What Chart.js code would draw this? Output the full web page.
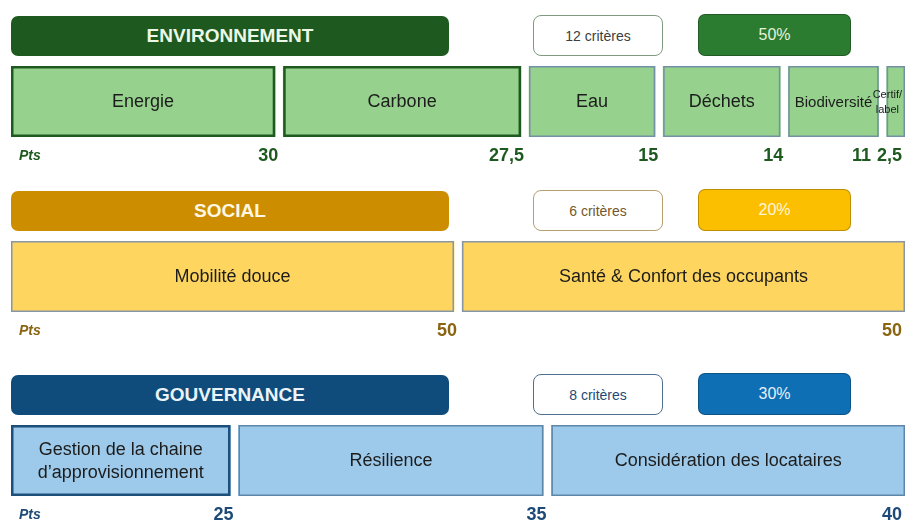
<!DOCTYPE html>
<html lang="fr">
<head>
<meta charset="utf-8">
<title>Critères ESG</title>
<script src="https://cdn.jsdelivr.net/npm/chart.js@4"></script>
<style>
  html, body { margin: 0; padding: 0; background: #fff; }
  body {
    width: 906px; height: 525px; position: relative; overflow: hidden;
    font-family: "Liberation Sans", Arial, sans-serif;
  }
  .pill {
    position: absolute; box-sizing: border-box; display: flex;
    align-items: center; justify-content: center; border-radius: 7px;
  }
  .pillar { left: 11px; width: 438px; height: 40px; font-weight: bold; font-size: 19px; }
  .count { left: 533px; width: 130px; height: 41px; background: #fff; border: 1.5px solid; font-size: 14px; border-radius: 8px; }
  .weight { left: 698px; width: 153px; height: 42px; font-size: 16px; border: 1px solid rgba(0, 0, 0, 0.25); }
  canvas { position: absolute; left: 0; }
</style>
</head>
<body>
<script>
  var pillars = ["ENVIRONNEMENT", "SOCIAL", "GOUVERNANCE"];
  var criteriaCounts = [12, 6, 8];
  var weights = [50, 20, 30];

  var envSegments = ["Energie", "Carbone", "Eau", "Déchets", "Biodiversité", "Certif/\nlabel"];
  var envPoints = [30, 27.5, 15, 14, 11, 2.5];

  var socialSegments = ["Mobilité douce", "Santé & Confort des occupants"];
  var socialPoints = [50, 50];

  var govSegments = ["Gestion de la chaine\nd’approvisionnement", "Résilience", "Considération des locataires"];
  var govPoints = [25, 35, 40];

  var segments = [envSegments, socialSegments, govSegments];
  var points = [envPoints, socialPoints, govPoints];

  var themes = [
    { dark: "#1e5a1f", headText: "#ecf7e7", weightBg: "#2b7b30", weightText: "#e4f3dd",
      countBorder: "#7f9a80", countText: "#3d3d3d", fill: "#96d28d",
      strong: "#1e5a1f", strongCount: 2, thin: "#7390a6", pts: "#1e5a1f" },
    { dark: "#cc8e00", headText: "#fff7e4", weightBg: "#fcbf00", weightText: "#fff6da",
      countBorder: "#b5a070", countText: "#75582a", fill: "#fed65f",
      strong: "#8896a4", strongCount: 0, thin: "#8896a4", pts: "#8a6410" },
    { dark: "#0f4c7b", headText: "#ebf3fa", weightBg: "#0e6fb5", weightText: "#e6f1fa",
      countBorder: "#4f6f90", countText: "#1e4b75", fill: "#9dcaea",
      strong: "#1d4f7b", strongCount: 1, thin: "#5d86a8", pts: "#1d4a76" },
  ];

  var offsets = [0, 175, 359];
  var GAP = 4;
  var FONT = "'Liberation Sans', Arial, sans-serif";

  function fmt(v) {
    return String(v).replace(".", ",");
  }

  function addPill(cls, top, text, style) {
    var el = document.createElement("div");
    el.className = "pill " + cls;
    el.style.top = top + "px";
    el.textContent = text;
    for (var k in style) el.style[k] = style[k];
    document.body.appendChild(el);
  }

  var segmentDecor = {
    id: "segmentDecor",
    afterDatasetsDraw: function (chart) {
      var ctx = chart.ctx;
      var area = chart.chartArea;
      var th = chart.options.plugins.segmentDecor.theme;
      var n = chart.data.datasets.length;
      var bars = chart.data.datasets.map(function (ds, i) {
        return chart.getDatasetMeta(i).data[0];
      });

      ctx.save();
      bars.forEach(function (bar, i) {
        var left = Math.min(bar.base, bar.x) + (i === 0 ? 0 : GAP);
        var right = Math.max(bar.base, bar.x) - (i === n - 1 ? 0 : GAP);
        var top = bar.y - bar.height / 2;
        var strong = i < th.strongCount;
        var lw = strong ? 2.5 : 1.5;
        ctx.strokeStyle = strong ? th.strong : th.thin;
        ctx.lineWidth = lw;
        ctx.strokeRect(left + lw / 2, top + lw / 2, right - left - lw, bar.height - lw);

        // label inside the segment
        var lines = chart.data.datasets[i].label.split("\n");
        var size = 18;
        ctx.font = size + "px " + FONT;
        var widest = function () {
          return Math.max.apply(null, lines.map(function (l) { return ctx.measureText(l).width; }));
        };
        while (widest() > right - left - 10 && size > 11) {
          size -= 1;
          ctx.font = size + "px " + FONT;
        }
        var w = widest();
        var cx = (left + right) / 2;
        if (cx + w / 2 > area.right - 3) cx = area.right - 3 - w / 2;
        var lh = size * 1.28;
        var y0 = bar.y - (lh * (lines.length - 1)) / 2;
        ctx.fillStyle = "#1c1c1c";
        ctx.textAlign = "center";
        ctx.textBaseline = "middle";
        lines.forEach(function (l, j) {
          ctx.fillText(l, cx, y0 + j * lh + 1);
        });
      });

      // points under each segment
      var py = area.bottom + 19;
      ctx.fillStyle = th.pts;
      ctx.textBaseline = "middle";
      ctx.font = "italic bold 14px " + FONT;
      ctx.textAlign = "left";
      ctx.fillText("Pts", area.left + 8, py);

      ctx.font = "bold 18px " + FONT;
      var labels = bars.map(function (bar, i) {
        var t = fmt(chart.data.datasets[i].data[0]);
        var r = Math.max(bar.base, bar.x) - (i === n - 1 ? 3 : 1);
        return { t: t, r: r, w: ctx.measureText(t).width };
      });
      for (var i = labels.length - 2; i >= 0; i--) {
        var limit = labels[i + 1].r - labels[i + 1].w - 6;
        if (labels[i].r > limit) labels[i].r = limit;
      }
      ctx.textAlign = "right";
      labels.forEach(function (l) {
        ctx.fillText(l.t, l.r, py);
      });
      ctx.restore();
    },
  };

  pillars.forEach(function (name, g) {
    var th = themes[g];
    var top = offsets[g];

    addPill("pillar", top + 16, name, { background: th.dark, color: th.headText });
    addPill("count", top + 15, criteriaCounts[g] + " critères", { borderColor: th.countBorder, color: th.countText });
    addPill("weight", top + 14, weights[g] + "%", { background: th.weightBg, color: th.weightText });

    var canvas = document.createElement("canvas");
    canvas.width = 906;
    canvas.height = 104;
    canvas.style.top = top + 66 + "px";
    canvas.style.width = "906px";
    canvas.style.height = "104px";
    document.body.appendChild(canvas);

    var n = segments[g].length;
    new Chart(canvas, {
      type: "bar",
      data: {
        labels: [name],
        datasets: segments[g].map(function (s, i) {
          return {
            label: s,
            data: [points[g][i]],
            backgroundColor: th.fill,
            borderColor: "#ffffff",
            borderWidth: { left: i === 0 ? 0 : GAP, right: i === n - 1 ? 0 : GAP, top: 0, bottom: 0 },
            borderSkipped: false,
            barPercentage: 1,
            categoryPercentage: 1,
          };
        }),
      },
      options: {
        indexAxis: "y",
        responsive: false,
        animation: false,
        events: [],
        layout: { padding: { left: 11, right: 1, top: 0, bottom: 33 } },
        scales: {
          x: { stacked: true, min: 0, max: 100, display: false },
          y: { stacked: true, display: false },
        },
        plugins: {
          legend: { display: false },
          tooltip: { enabled: false },
          segmentDecor: { theme: th },
        },
      },
      plugins: [segmentDecor],
    });
  });
</script>
</body>
</html>
